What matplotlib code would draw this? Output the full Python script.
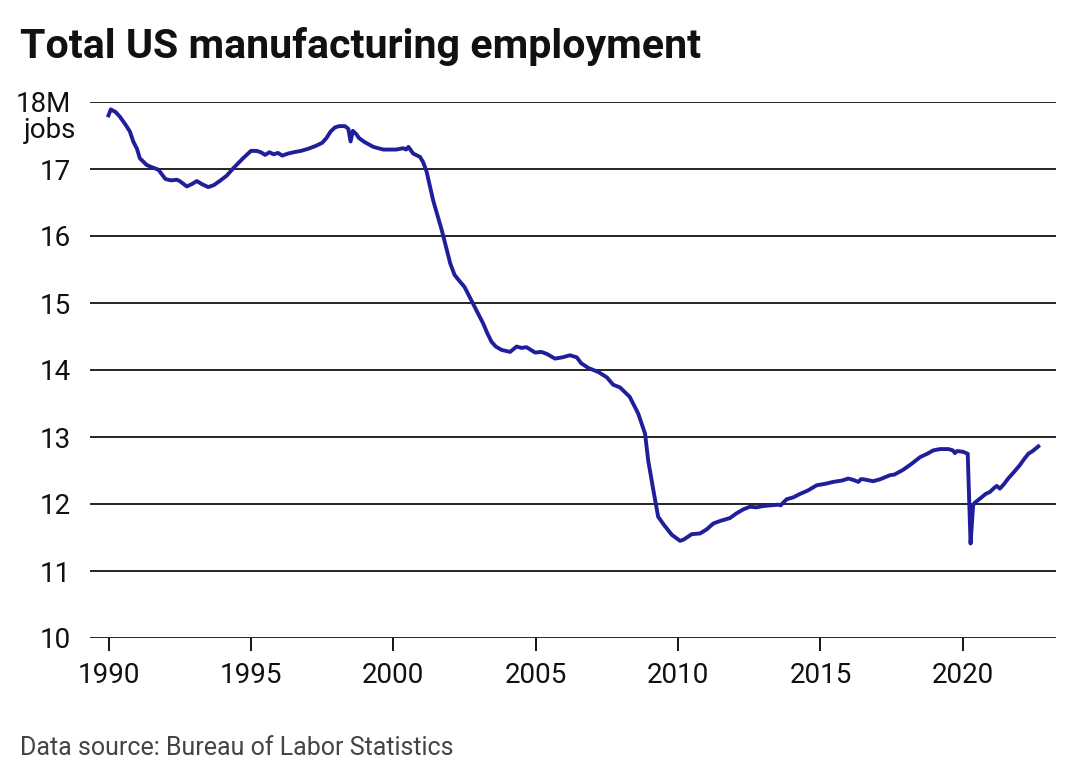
import matplotlib
matplotlib.use("Agg")
import matplotlib.pyplot as plt

# ---- data ----
years = [
    1990.00, 1990.08, 1990.25, 1990.40, 1990.60, 1990.75, 1990.87, 1991.00, 1991.10, 1991.34,
    1991.50, 1991.75, 1992.00, 1992.20, 1992.40, 1992.50, 1992.75, 1992.95, 1993.10, 1993.30,
    1993.50, 1993.70, 1993.90, 1994.15, 1994.40, 1994.70, 1995.00, 1995.20, 1995.35, 1995.50,
    1995.65, 1995.80, 1995.95, 1996.10, 1996.30, 1996.50, 1996.75, 1997.00, 1997.25, 1997.50,
    1997.65, 1997.80, 1997.95, 1998.10, 1998.30, 1998.42, 1998.50, 1998.58, 1998.70, 1998.80,
    1999.00, 1999.30, 1999.65, 2000.10, 2000.35, 2000.45, 2000.53, 2000.70, 2000.94, 2001.05,
    2001.17, 2001.40, 2001.70, 2002.00, 2002.15, 2002.30, 2002.50, 2002.80, 2003.16, 2003.30,
    2003.45, 2003.60, 2003.80, 2004.10, 2004.33, 2004.50, 2004.68, 2004.98, 2005.20, 2005.39,
    2005.68, 2005.95, 2006.20, 2006.44, 2006.60, 2006.85, 2007.20, 2007.50, 2007.72, 2007.96,
    2008.30, 2008.60, 2008.84, 2008.95, 2009.13, 2009.30, 2009.50, 2009.78, 2010.07, 2010.20,
    2010.48, 2010.77, 2011.00, 2011.24, 2011.50, 2011.82, 2012.05, 2012.29, 2012.53, 2012.75,
    2012.99, 2013.25, 2013.52, 2013.60, 2013.81, 2014.05, 2014.28, 2014.55, 2014.87, 2015.15,
    2015.45, 2015.75, 2015.98, 2016.15, 2016.33, 2016.42, 2016.50, 2016.85, 2017.10, 2017.44,
    2017.60, 2017.90, 2018.20, 2018.50, 2018.75, 2018.96, 2019.20, 2019.49, 2019.65, 2019.72,
    2019.80, 2020.00, 2020.17, 2020.27, 2020.36, 2020.42, 2020.60, 2020.80, 2020.95, 2021.10,
    2021.19, 2021.30, 2021.45, 2021.59, 2021.80, 2022.00, 2022.15, 2022.30, 2022.45, 2022.65,
]
jobs_millions = [
    17.80, 17.89, 17.85, 17.78, 17.66, 17.56, 17.41, 17.30, 17.16, 17.06,
    17.03, 16.99, 16.85, 16.83, 16.84, 16.82, 16.74, 16.78, 16.82, 16.77,
    16.73, 16.76, 16.82, 16.90, 17.02, 17.15, 17.27, 17.27, 17.25, 17.21,
    17.25, 17.22, 17.24, 17.20, 17.23, 17.25, 17.27, 17.30, 17.34, 17.39,
    17.46, 17.56, 17.62, 17.64, 17.64, 17.60, 17.41, 17.57, 17.52, 17.46,
    17.40, 17.33, 17.29, 17.29, 17.31, 17.29, 17.33, 17.23, 17.18, 17.10,
    16.96, 16.53, 16.09, 15.59, 15.42, 15.34, 15.24, 14.99, 14.69, 14.55,
    14.42, 14.35, 14.30, 14.27, 14.35, 14.33, 14.34, 14.26, 14.27, 14.24,
    14.17, 14.19, 14.22, 14.19, 14.10, 14.03, 13.97, 13.89, 13.78, 13.74,
    13.60, 13.35, 13.05, 12.65, 12.21, 11.81, 11.69, 11.54, 11.45, 11.47,
    11.55, 11.56, 11.62, 11.71, 11.75, 11.79, 11.86, 11.92, 11.96, 11.95,
    11.97, 11.98, 11.99, 11.98, 12.07, 12.10, 12.15, 12.20, 12.28, 12.30,
    12.33, 12.35, 12.38, 12.36, 12.33, 12.37, 12.37, 12.34, 12.37, 12.43,
    12.44, 12.51, 12.60, 12.70, 12.75, 12.80, 12.82, 12.82, 12.80, 12.76,
    12.79, 12.78, 12.75, 11.41, 11.98, 12.02, 12.08, 12.15, 12.18, 12.24,
    12.27, 12.23, 12.30, 12.38, 12.48, 12.58, 12.67, 12.75, 12.79, 12.86,
]
x_ticks = [1990, 1995, 2000, 2005, 2010, 2015, 2020]
y_ticks = [10, 11, 12, 13, 14, 15, 16, 17, 18]
y_tick_labels = ["10", "11", "12", "13", "14", "15", "16", "17", "18M"]

plt.rcParams["font.family"] = ["Roboto", "DejaVu Sans"]

W, H = 1080, 781
fig = plt.figure(figsize=(W / 100, H / 100), dpi=100)
ax = fig.add_axes([90 / W, 1 - 638 / H, (1056 - 90) / W, (638 - 102) / H])

for yv in y_ticks:
    ax.axhline(yv, color="black", lw=1.2, zorder=1)

ax.plot(years, jobs_millions, color="#1f1f9c", lw=2.8, solid_joinstyle="round",
        zorder=3)

ax.set_xlim(1989.35, 2023.27)
ax.set_ylim(10, 18)

for s in ax.spines.values():
    s.set_visible(False)

ax.set_yticks(y_ticks)
ax.set_yticklabels(y_tick_labels)
ax.tick_params(axis="y", length=0, pad=14, labelsize=20, labelcolor="#111111")
ax.set_xticks(x_ticks)
ax.set_xticklabels([str(t) for t in x_ticks])
ax.tick_params(axis="x", direction="out", length=9, width=1.3, color="black",
               pad=8, labelsize=20, labelcolor="#111111")

ax.text(-14 / (1056 - 90), 17.57, "jobs", transform=ax.get_yaxis_transform(),
        ha="right", va="center", fontsize=20, color="#111111")

fig.text(20 / W, 1 - 58 / H, "Total US manufacturing employment",
         fontsize=29.6, fontweight="bold", color="#111111", va="baseline", ha="left")
fig.text(20 / W, 1 - 755 / H, "Data source: Bureau of Labor Statistics",
         fontsize=18, color="#444444", va="baseline", ha="left")

fig.savefig("out.png", dpi=100, facecolor="white")
